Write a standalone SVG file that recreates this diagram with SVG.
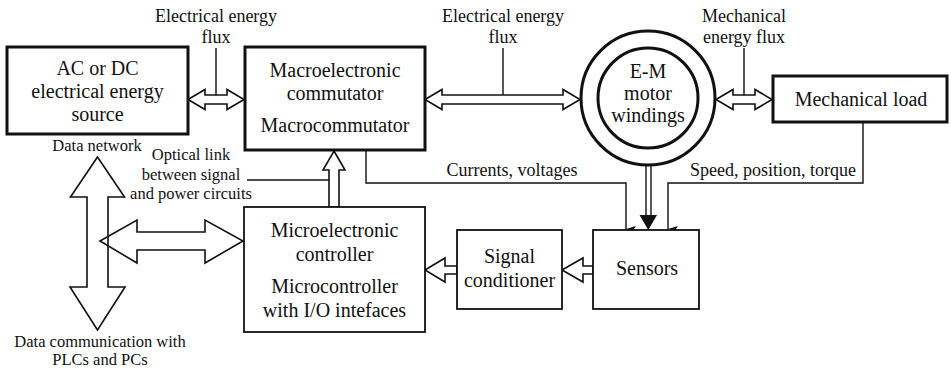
<svg xmlns="http://www.w3.org/2000/svg" width="951" height="372" viewBox="0 0 951 372">
<style>
text{font-family:"Liberation Serif","Times New Roman",serif;fill:#111;text-anchor:middle}
.b{font-size:20px}
.l{font-size:18px}
.s{font-size:16.5px}
.thick{fill:#fff;stroke:#111;stroke-width:3}
.thin{fill:#fff;stroke:#111;stroke-width:1.8}
.ha{fill:#fff;stroke:#111;stroke-width:1.6;stroke-linejoin:miter}
.hn{fill:none;stroke:#111;stroke-width:1.6;stroke-linejoin:miter}
.ln{fill:none;stroke:#111;stroke-width:1.4}
</style>
<defs>
<marker id="sa" viewBox="0 0 6 10" refX="3" refY="10" markerWidth="6" markerHeight="10" markerUnits="userSpaceOnUse" orient="auto-start-reverse">
<path d="M0,0 L3,10 L6,0 L3,2 z" fill="#111"/>
</marker>
</defs>
<rect width="951" height="372" fill="#fff"/>

<g id="connectors">
<!-- AC <-> Macro -->
<polygon class="ha" points="188,99.5 205,89.5 205,95 227,95 227,89.5 244,99.5 227,109.5 227,104 205,104 205,109.5"/>
<line class="ln" x1="216" y1="48" x2="216" y2="95"/>
<!-- Macro <-> Motor -->
<polygon class="ha" points="425,99.5 442,89.5 442,95 563,95 563,89.5 580,99.5 563,109.5 563,104 442,104 442,109.5"/>
<line class="ln" x1="503" y1="48" x2="503" y2="95"/>
<!-- Motor <-> Mech load -->
<polygon class="ha" points="716,99.5 733,89.5 733,95 755,95 755,89.5 772,99.5 755,109.5 755,104 733,104 733,109.5"/>
<line class="ln" x1="744" y1="48" x2="744" y2="95"/>
<!-- Micro -> Macro -->
<polygon class="ha" points="334,151 345,170 339,170 339,207 329,207 329,170 323,170"/>
<line class="ln" x1="247" y1="180" x2="329" y2="180"/>
<!-- Currents, voltages -->
<path class="ln" d="M366,151 V183 H626 V229" marker-end="url(#sa)"/>
<!-- Speed, position, torque -->
<path class="ln" d="M863,122 V183 H668 V229" marker-end="url(#sa)"/>
<!-- Motor -> Sensors thick -->
<line class="ln" x1="646" y1="165" x2="646" y2="216"/>
<line class="ln" x1="651" y1="165" x2="651" y2="216"/>
<polygon points="639.5,215 657,215 648.3,230" fill="#111"/>
<!-- Sensors -> Signal conditioner -->
<polygon class="ha" points="562,270 583,258 583,266 593,266 593,274 583,274 583,282"/>
<!-- Signal conditioner -> Micro -->
<polygon class="ha" points="425,270 445,258 445,266 457,266 457,274 445,274 445,282"/>
<!-- Data network vertical double arrow -->
<polygon class="hn" points="97.5,157 124.5,197 108,197 108,287 125,287 97.5,330 70,287 87,287 87,197 70.5,197"/>
<!-- Horizontal double arrow to micro -->
<polygon class="hn" points="100,241 137,220 137,232 205,232 205,220 243,241 205,263 205,250 137,250 137,263"/>
</g>

<g id="ac-source">
<rect class="thick" x="7" y="47" width="181" height="87"/>
<text class="b" x="97.5" y="75">AC or DC</text>
<text class="b" x="97.5" y="98">electrical energy</text>
<text class="b" x="97.5" y="121">source</text>
</g>

<g id="macro">
<rect class="thick" x="245" y="47" width="180" height="103"/>
<text class="b" x="335" y="77">Macroelectronic</text>
<text class="b" x="335" y="100">commutator</text>
<text class="b" x="335" y="132">Macrocommutator</text>
</g>

<g id="motor">
<circle cx="648" cy="98" r="67" fill="#fff" stroke="#111" stroke-width="3"/>
<circle cx="648" cy="98" r="50" fill="#fff" stroke="#111" stroke-width="3"/>
<text class="b" x="648" y="78">E-M</text>
<text class="b" x="648" y="100">motor</text>
<text class="b" x="648" y="122">windings</text>
</g>

<g id="mech-load">
<rect class="thick" x="773" y="76" width="174" height="46"/>
<text class="b" x="861" y="105.5">Mechanical load</text>
</g>

<g id="micro">
<rect class="thin" x="244" y="207" width="181" height="125"/>
<text class="b" x="334.5" y="237">Microelectronic</text>
<text class="b" x="334.5" y="261">controller</text>
<text class="b" x="334.5" y="293">Microcontroller</text>
<text class="b" x="334.5" y="317">with I/O intefaces</text>
</g>

<g id="signal-conditioner">
<rect class="thin" x="457" y="230" width="105" height="79"/>
<text class="b" x="509.5" y="263">Signal</text>
<text class="b" x="509.5" y="287">conditioner</text>
</g>

<g id="sensors">
<rect class="thin" x="593" y="230" width="106" height="79"/>
<text class="b" x="647" y="275">Sensors</text>
</g>

<g id="labels">
<text class="l" x="216" y="22">Electrical energy</text>
<text class="l" x="216" y="43">flux</text>
<text class="l" x="503" y="22">Electrical energy</text>
<text class="l" x="503" y="43">flux</text>
<text class="l" x="744" y="22">Mechanical</text>
<text class="l" x="744" y="43">energy flux</text>
<text class="l" x="512" y="176">Currents, voltages</text>
<text class="l" x="773" y="176">Speed, position, torque</text>
<text class="s" x="97" y="151">Data network</text>
<text class="s" x="191" y="160">Optical link</text>
<text class="s" x="191" y="179.5">between signal</text>
<text class="s" x="191" y="199">and power circuits</text>
<text class="s" x="100" y="347">Data communication with</text>
<text class="s" x="100" y="365">PLCs and PCs</text>
</g>
</svg>
